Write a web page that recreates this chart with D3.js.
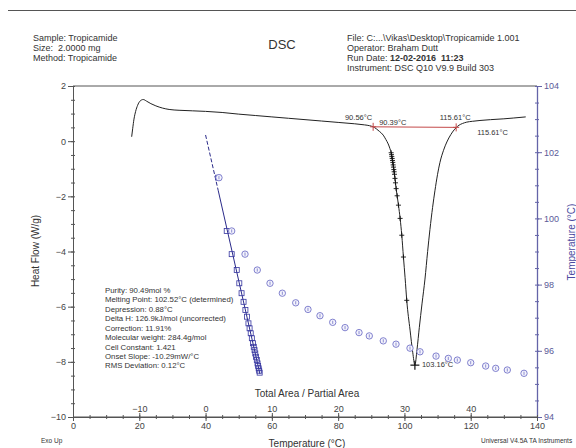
<!DOCTYPE html>
<html><head><meta charset="utf-8">
<script src="https://cdn.jsdelivr.net/npm/d3@7"></script>
<style>
html,body{margin:0;padding:0;background:#fff;}
svg{display:block;font-family:"Liberation Sans",Arial,sans-serif;}
text{white-space:pre;}
</style></head>
<body><svg id="c" width="576" height="448"></svg>
<script>
// ---------- data ----------
const hfTicks = [2,0,-2,-4,-6,-8,-10];
const tempTicks = [0,20,40,60,80,100,120,140];
const areaTicks = [-10,0,10,20,30,40];
const rightTicks = [104,102,100,98,96,94];

// DSC heat flow curve
const dscTemp = [17.7,18.0,18.4,18.9,19.5,20.2,21.2,22.2,23.5,25,27,29,32,36,40,45,50,55,60,65,70,75,80,85,88,89.5,90.56,91.5,92.5,93.6,94.4,95.1,95.6,96.0,96.5,97.0,97.5,98.2,98.7,99.2,99.7,100.2,100.7,101.7,102.5,103.16,103.8,104.5,105.3,106.2,107.0,107.7,108.5,109.2,110.0,110.7,111.8,112.8,114.0,115.0,115.61,116.5,117.5,118.8,120.5,122.8,126,130,133,136.6];
const dscHF = [0.16,0.45,0.80,1.08,1.30,1.45,1.51,1.45,1.36,1.28,1.20,1.15,1.12,1.10,1.08,1.04,0.98,0.93,0.88,0.83,0.78,0.73,0.68,0.63,0.59,0.56,0.52,0.45,0.35,0.22,0.06,-0.10,-0.26,-0.42,-0.77,-1.20,-1.72,-2.32,-2.80,-3.41,-4.20,-4.95,-5.77,-6.85,-7.65,-8.12,-7.55,-6.75,-5.90,-5.00,-4.00,-3.20,-2.40,-1.80,-1.20,-0.78,-0.33,-0.03,0.24,0.41,0.49,0.58,0.64,0.69,0.72,0.75,0.78,0.81,0.84,0.88];

// partial-area points on the melting curve
const plusTemp = [96.0,96.1,96.2,96.3,96.4,96.5,96.6,96.7,96.8,96.9,97.0,97.15,97.3,97.5,97.8,98.2,98.7,99.2,99.7,100.7];
const plusHF = [-0.42,-0.49,-0.56,-0.63,-0.70,-0.77,-0.86,-0.94,-1.03,-1.11,-1.20,-1.35,-1.51,-1.72,-1.98,-2.32,-2.80,-3.41,-4.20,-5.77];
const peakTemp = [103.16];
const peakHF = [-8.12];

// baseline for integration
const baseTemp = [90.56, 115.61];
const baseHF = [0.52, 0.50];

// purity plot: T vs total area / partial area
const fitArea = [0, 1.9, 8.2];
const fitT = [102.52, 100.85, 95.30];
const sqArea = [1.9,3.19,3.94,4.70,5.09,5.43,5.73,6.01,6.24,6.47,6.64,6.81,6.98,7.15,7.27,7.39,7.50,7.61,7.73,7.84,7.93,8.01,8.09,8.16];
const sqT = [101.23,99.62,98.92,98.44,98.04,97.74,97.48,97.23,97.03,96.83,96.68,96.53,96.38,96.23,96.12,96.02,95.92,95.82,95.72,95.62,95.54,95.47,95.40,95.34];
const cirArea = [2.02,3.94,5.95,7.80,9.72,11.58,13.60,15.45,17.26,19.18,21.04,23.15,24.70,26.81,28.73,30.84,32.35,34.77,36.62,37.98,40.00,42.26,43.77,45.52,48.04];
const cirT = [101.23,99.62,98.92,98.44,98.04,97.74,97.45,97.25,97.06,96.86,96.70,96.55,96.45,96.30,96.20,96.08,95.97,95.84,95.77,95.72,95.64,95.54,95.47,95.42,95.32];

const headerLeft = ["Sample: Tropicamide","Size:  2.0000 mg","Method: Tropicamide"];
const infoLines = ["Purity: 90.49mol %","Melting Point: 102.52°C (determined)","Depression: 0.88°C","Delta H: 126.9kJ/mol (uncorrected)","Correction: 11.91%","Molecular weight: 284.4g/mol","Cell Constant: 1.421","Onset Slope: -10.29mW/°C","RMS Deviation: 0.12°C"];

// ---------- drawing ----------
const svg = d3.select("#c");
const L=73, R=537, T=86, B=417;
const x = d3.scaleLinear().domain([0,140]).range([L,R]);
const xA = d3.scaleLinear().domain([-20,50]).range([L,R]);
const y = d3.scaleLinear().domain([-10,2]).range([B,T]);
const yT = d3.scaleLinear().domain([94,104]).range([B,T]);

const grey="#555", txt="#444", blueAx="#6464a8", blueTxt="#5a5a98";

// header
svg.append("line").attr("x1",8).attr("x2",576).attr("y1",10.5).attr("y2",10.5).attr("stroke","#555").attr("stroke-width",1.2);
svg.append("g").selectAll("text").data(headerLeft).join("text")
  .attr("x",33).attr("y",(d,i)=>40.5+i*10.3).attr("font-size",9).attr("fill","#333").text(d=>d);
svg.append("text").attr("x",282).attr("y",48.5).attr("text-anchor","middle").attr("font-size",13).attr("fill","#333").text("DSC");
const hr = svg.append("g").attr("font-size",9).attr("fill","#333");
hr.append("text").attr("x",347).attr("y",40.5).text("File: C:...\\Vikas\\Desktop\\Tropicamide 1.001");
hr.append("text").attr("x",347).attr("y",50.8).text("Operator: Braham Dutt");
const rd = hr.append("text").attr("x",347).attr("y",61.1);
rd.append("tspan").text("Run Date: ");
rd.append("tspan").attr("font-weight","bold").text("12-02-2016  11:23");
hr.append("text").attr("x",347).attr("y",71.4).text("Instrument: DSC Q10 V9.9 Build 303");

// frame top
svg.append("line").attr("x1",L).attr("x2",R).attr("y1",T).attr("y2",T).attr("stroke",grey).attr("stroke-width",1);

function styleAxis(g,col,tcol,fs){
  g.selectAll("path.domain").attr("stroke",col);
  g.selectAll(".tick line").attr("stroke",col);
  g.selectAll(".tick text").attr("fill",tcol).attr("font-size",fs).attr("font-family","Liberation Sans, Arial, sans-serif");
}
function minorVals(a,b,s){const r=[];for(let v=a;v<=b+1e-9;v+=s)r.push(+v.toFixed(3));return r;}

// left axis
let g = svg.append("g").attr("transform",`translate(${L},0)`)
  .call(d3.axisLeft(y).tickValues(hfTicks).tickSize(5).tickSizeOuter(0).tickPadding(2).tickFormat(d3.format("d")));
styleAxis(g,grey,txt,9);
g = svg.append("g").attr("transform",`translate(${L},0)`)
  .call(d3.axisLeft(y).tickValues(minorVals(-10,2,0.5)).tickSize(2).tickSizeOuter(0).tickFormat(""));
styleAxis(g,grey,txt,9);
g = svg.append("g").attr("transform",`translate(${L},0)`)
  .call(d3.axisRight(y).tickValues(minorVals(-10,2,0.5)).tickSize(2).tickSizeOuter(0).tickFormat(""));
styleAxis(g,grey,txt,9);

// right axis
g = svg.append("g").attr("transform",`translate(${R},0)`)
  .call(d3.axisRight(yT).tickValues(rightTicks).tickSize(5).tickSizeOuter(0).tickPadding(2));
styleAxis(g,blueAx,blueTxt,9);
g.selectAll("path.domain").attr("stroke-width",1.3);
g = svg.append("g").attr("transform",`translate(${R},0)`)
  .call(d3.axisRight(yT).tickValues(minorVals(94,104,0.5)).tickSize(2).tickSizeOuter(0).tickFormat(""));
styleAxis(g,blueAx,blueTxt,9);
g = svg.append("g").attr("transform",`translate(${R},0)`)
  .call(d3.axisLeft(yT).tickValues(minorVals(94,104,0.5)).tickSize(2).tickSizeOuter(0).tickFormat(""));
styleAxis(g,blueAx,blueTxt,9);

// bottom axis
g = svg.append("g").attr("transform",`translate(0,${B})`)
  .call(d3.axisBottom(x).tickValues(tempTicks).tickSize(4).tickSizeOuter(0).tickPadding(1.5));
styleAxis(g,grey,txt,9);
g = svg.append("g").attr("transform",`translate(0,${B})`)
  .call(d3.axisTop(xA).tickValues(areaTicks).tickSize(4).tickSizeOuter(0).tickPadding(1.5));
styleAxis(g,grey,txt,9);
g.select("path.domain").remove();
g = svg.append("g").attr("transform",`translate(0,${B})`)
  .call(d3.axisBottom(x).tickValues(minorVals(0,140,5)).tickSize(2).tickSizeOuter(0).tickFormat(""));
styleAxis(g,grey,txt,9);
g = svg.append("g").attr("transform",`translate(0,${B})`)
  .call(d3.axisTop(x).tickValues(minorVals(0,140,5)).tickSize(2).tickSizeOuter(0).tickFormat(""));
styleAxis(g,grey,txt,9);
svg.append("line").attr("x1",L).attr("x2",R).attr("y1",B).attr("y2",B).attr("stroke",grey);

// titles
svg.append("text").attr("transform","translate(39,251) rotate(-90)").attr("text-anchor","middle").attr("font-size",10).attr("fill","#333").text("Heat Flow (W/g)");
svg.append("text").attr("transform","translate(574.5,242) rotate(-90)").attr("text-anchor","middle").attr("font-size",10).attr("fill","#4a4aa0").text("Temperature (°C)");
svg.append("text").attr("x",307).attr("y",446.5).attr("text-anchor","middle").attr("font-size",10).attr("fill","#333").text("Temperature (°C)");
svg.append("text").attr("x",307).attr("y",396.5).attr("text-anchor","middle").attr("font-size",10).attr("fill","#333").text("Total Area / Partial Area");
svg.append("text").attr("x",41).attr("y",443).attr("font-size",6.5).attr("fill","#333").text("Exo Up");
svg.append("text").attr("x",481).attr("y",442.5).attr("font-size",6.5).attr("fill","#333").text("Universal V4.5A TA Instruments");

// info block
svg.append("g").selectAll("text").data(infoLines).join("text")
  .attr("x",105).attr("y",(d,i)=>292.8+i*9.45).attr("font-size",7.8).attr("fill","#333").text(d=>d);

// DSC curve
const dscPts = dscTemp.map((t,i)=>[t,dscHF[i]]);
svg.append("path").datum(dscPts).attr("fill","none").attr("stroke","#222").attr("stroke-width",1)
  .attr("d",d3.line().x(d=>x(d[0])).y(d=>y(d[1])).curve(d3.curveMonotoneX));

// red baseline
svg.append("line").attr("x1",x(baseTemp[0])).attr("y1",y(baseHF[0])).attr("x2",x(baseTemp[1])).attr("y2",y(baseHF[1]))
  .attr("stroke","#c44a4a").attr("stroke-width",1);
baseTemp.forEach((t,i)=>{
  const cx=x(t), cy=y(baseHF[i]);
  svg.append("line").attr("x1",cx).attr("x2",cx).attr("y1",cy-4).attr("y2",cy+4).attr("stroke","#c44a4a").attr("stroke-width",1);
  svg.append("line").attr("x1",cx-3).attr("x2",cx+3).attr("y1",cy).attr("y2",cy).attr("stroke","#c44a4a").attr("stroke-width",1);
});

// plus markers
const plusG = svg.append("g").attr("stroke","#111").attr("stroke-width",0.9);
plusTemp.forEach((t,i)=>{
  const cx=x(t), cy=y(plusHF[i]);
  plusG.append("line").attr("x1",cx-2.5).attr("x2",cx+2.5).attr("y1",cy).attr("y2",cy);
  plusG.append("line").attr("x1",cx).attr("x2",cx).attr("y1",cy-2.5).attr("y2",cy+2.5);
});
peakTemp.forEach((t,i)=>{
  const cx=x(t), cy=y(peakHF[i]);
  plusG.append("line").attr("x1",cx-4.5).attr("x2",cx+4.5).attr("y1",cy).attr("y2",cy).attr("stroke-width",1.2);
  plusG.append("line").attr("x1",cx).attr("x2",cx).attr("y1",cy-4.5).attr("y2",cy+4.5).attr("stroke-width",1.2);
});

// labels on the curve
const lab = svg.append("g").attr("font-size",7.5).attr("fill","#333");
lab.append("text").attr("x",x(baseTemp[0])-1).attr("y",y(baseHF[0])-7).attr("text-anchor","end").text("90.56°C");
lab.append("text").attr("x",x(baseTemp[0])+6).attr("y",y(baseHF[0])-1.5).text("90.39°C");
lab.append("text").attr("x",x(baseTemp[1])-1).attr("y",y(baseHF[1])-7).attr("text-anchor","middle").text("115.61°C");
lab.append("text").attr("x",x(baseTemp[1])+21).attr("y",y(baseHF[1])+8).text("115.61°C");
lab.append("text").attr("x",x(peakTemp[0])+7).attr("y",y(peakHF[0])+1.5).text("103.16°C");

// purity fit line
svg.append("line").attr("x1",xA(fitArea[0])).attr("y1",yT(fitT[0])).attr("x2",xA(fitArea[1])).attr("y2",yT(fitT[1]))
  .attr("stroke","#2b2b8a").attr("stroke-width",1).attr("stroke-dasharray","4,2");
svg.append("line").attr("x1",xA(fitArea[1])).attr("y1",yT(fitT[1])).attr("x2",xA(fitArea[2])).attr("y2",yT(fitT[2]))
  .attr("stroke","#2b2b8a").attr("stroke-width",1);

// squares
svg.append("g").selectAll("rect").data(sqArea.map((a,i)=>[a,sqT[i]])).join("rect")
  .attr("x",d=>xA(d[0])-2.5).attr("y",d=>yT(d[1])-2.5).attr("width",5).attr("height",5)
  .attr("fill","none").attr("stroke","#3535a0").attr("stroke-width",0.8);

// circles (uncorrected)
const cg = svg.append("g").selectAll("g").data(cirArea.map((a,i)=>[a,cirT[i]])).join("g")
  .attr("transform",d=>`translate(${xA(d[0])},${yT(d[1])})`);
cg.append("circle").attr("r",3.2).attr("fill","#f4f4fc").attr("stroke","#7474c8").attr("stroke-width",0.9);
cg.append("line").attr("x1",0).attr("x2",0).attr("y1",-1.6).attr("y2",1.6).attr("stroke","#7474c8").attr("stroke-width",0.8);
</script>
</body></html>
